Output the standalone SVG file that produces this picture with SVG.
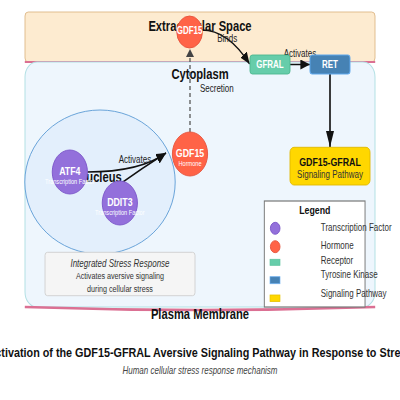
<svg xmlns="http://www.w3.org/2000/svg" width="400" height="400" viewBox="0 0 400 400">
<defs>
<style>
text{font-family:"Liberation Sans",Arial,Helvetica,sans-serif;}
.hd{font-weight:bold;font-size:14px;fill:#111;text-anchor:middle;}
.lbl{font-size:10px;fill:#222;}
.mid{text-anchor:middle;}
.wb{font-weight:bold;fill:#fff;text-anchor:middle;}
.ws{fill:#fff;text-anchor:middle;font-size:7px;}
.tf{fill:#9370db;stroke:#7a55c8;stroke-width:1;}
.hm{fill:#ff6347;stroke:#e5533c;stroke-width:1;}
.con{fill:none;stroke:#111;stroke-width:1.5;}
.lg{font-size:10px;fill:#333;}
</style>
<marker id="ah" markerWidth="12" markerHeight="10" refX="12" refY="5" orient="auto" markerUnits="userSpaceOnUse"><path d="M0,0 L12,5 L0,10 z" fill="#111"/></marker>
<marker id="ahBig" markerWidth="16" markerHeight="10" refX="16" refY="5" orient="auto" markerUnits="userSpaceOnUse"><path d="M0,0 L16,5 L0,10 z" fill="#111"/></marker>
<marker id="ahGray" markerWidth="8" markerHeight="10" refX="8" refY="5" orient="auto" markerUnits="userSpaceOnUse"><path d="M0,0 L8,5 L0,10 z" fill="#444"/></marker>
</defs>
<rect width="400" height="400" fill="#fff"/>
<g transform="scale(0.8,1)">
<g id="extracellular">
<rect x="31.25" y="12" width="437.5" height="50" rx="4" fill="#fdebd0" stroke="#deb887" stroke-width="1"/>
<text class="hd" x="250" y="31">Extracellular Space</text>
</g>
<path d="M31,62 L469,62" stroke="#db7093" stroke-width="2"/>
<g id="cytoplasm">
<rect x="31.25" y="62" width="437.5" height="245" rx="15" ry="15" fill="#eef6fd" stroke="#b0dfe3" stroke-width="1.2"/>
<text class="hd" x="250" y="79">Cytoplasm</text>
</g>
<g id="membrane">
<path d="M31,307 Q250,313 469,307" fill="none" stroke="#db7093" stroke-width="2.5"/>
<text class="hd" x="250" y="319">Plasma Membrane</text>
</g>
<g id="nucleus">
<ellipse cx="125" cy="182" rx="94" ry="72" fill="#e3effc" stroke="#5b9bd5" stroke-width="1"/>
<text class="hd" x="125" y="182">Nucleus</text>
</g>
<g id="stress-note">
<rect x="56.25" y="252.3" width="187.5" height="43.4" rx="3" fill="#f5f5f5" stroke="#cfcfcf" stroke-width="1"/>
<text x="150" y="266.7" font-size="10" font-style="italic" fill="#333" class="mid">Integrated Stress Response</text>
<text x="150" y="279.3" font-size="9" fill="#333" class="mid">Activates aversive signaling</text>
<text x="150" y="291.7" font-size="9" fill="#333" class="mid">during cellular stress</text>
</g>
<g id="legend">
<rect x="330.4" y="201" width="125.9" height="106" fill="#fff" stroke="#777" stroke-width="1.2"/>
<text x="393.5" y="214" font-size="11" font-weight="bold" fill="#111" class="mid">Legend</text>
<circle cx="344" cy="228.3" r="6" class="tf"/>
<text class="lg" x="401" y="230.7">Transcription Factor</text>
<circle cx="344" cy="246.7" r="6" class="hm"/>
<text class="lg" x="401" y="249">Hormone</text>
<rect x="337.5" y="259.3" width="12.5" height="6" fill="#66cdaa" stroke="#5cc49f" stroke-width="0.8"/>
<text class="lg" x="401" y="264.3">Receptor</text>
<rect x="337.5" y="276.7" width="12.5" height="7" fill="#4682b4" stroke="#6fb0ee" stroke-width="0.8"/>
<text class="lg" x="401" y="278.3">Tyrosine Kinase</text>
<rect x="337.5" y="295" width="12.5" height="6.5" fill="#ffd700" stroke="#e6c200" stroke-width="0.8"/>
<text class="lg" x="401" y="296.7">Signaling Pathway</text>
</g>
<g id="connectors">
<path d="M237.5,132 L237.5,49" fill="none" stroke="#555" stroke-width="1.6" stroke-dasharray="4,3" marker-end="url(#ahGray)"/>
<text class="lbl" x="250" y="92">Secretion</text>
<path class="con" d="M252,30 Q285,30 312,64" marker-end="url(#ah)"/>
<text class="lbl mid" x="284" y="42">Binds</text>
<path class="con" d="M362.5,64.5 L387.5,64.5" marker-end="url(#ah)"/>
<text class="lbl mid" x="375" y="57">Activates</text>
<path d="M412.5,74 L412.5,147" fill="none" stroke="#222" stroke-width="2.2" marker-end="url(#ahBig)"/>
<path class="con" d="M109,172 Q175,172 207.5,153" marker-end="url(#ah)"/>
<path class="con" d="M150,184 Q178,168 207.5,153" marker-end="url(#ah)"/>
<text class="lbl mid" x="168.75" y="163">Activates</text>
</g>
<g id="gdf15-extracellular">
<circle cx="237" cy="32" r="16" class="hm"/>
<text class="wb" x="237" y="34" font-size="10">GDF15</text>
</g>
<g id="gfral">
<rect x="312.5" y="55" width="50" height="19" rx="3" fill="#66cdaa" stroke="#4cb88f" stroke-width="1"/>
<text class="wb" x="337.5" y="68" font-size="10">GFRAL</text>
</g>
<g id="ret">
<rect x="387.5" y="55" width="50" height="19" rx="3" fill="#4682b4" stroke="#5fa8ec" stroke-width="1.2"/>
<text class="wb" x="412.5" y="68" font-size="10">RET</text>
</g>
<g id="pathway">
<rect x="362.5" y="147.3" width="100" height="37.7" rx="5" fill="#ffd700" stroke="#e0b800" stroke-width="1"/>
<text x="412.5" y="165.7" font-size="11" font-weight="bold" fill="#111" class="mid">GDF15-GFRAL</text>
<text x="412.5" y="178.5" font-size="10" fill="#333" class="mid">Signaling Pathway</text>
</g>
<g id="gdf15-hormone">
<circle cx="237.5" cy="154" r="22" class="hm"/>
<text class="wb" x="237.5" y="157" font-size="11">GDF15</text>
<text class="ws" x="237.5" y="166.5">Hormone</text>
</g>
<g id="atf4">
<circle cx="87.3" cy="172" r="22" class="tf"/>
<text class="wb" x="87.3" y="175" font-size="11">ATF4</text>
<text class="ws" x="87.3" y="184.3">Transcription Factor</text>
</g>
<g id="ddit3">
<circle cx="149.8" cy="203" r="22" class="tf"/>
<text class="wb" x="149.8" y="206" font-size="11">DDIT3</text>
<text class="ws" x="149.8" y="215.3">Transcription Factor</text>
</g>
<g id="title">
<text x="250" y="357" font-size="13.5" font-weight="bold" fill="#111" class="mid">Activation of the GDF15-GFRAL Aversive Signaling Pathway in Response to Stress</text>
<text x="250" y="374" font-size="10" font-style="italic" fill="#444" class="mid">Human cellular stress response mechanism</text>
</g>
</g>
</svg>
